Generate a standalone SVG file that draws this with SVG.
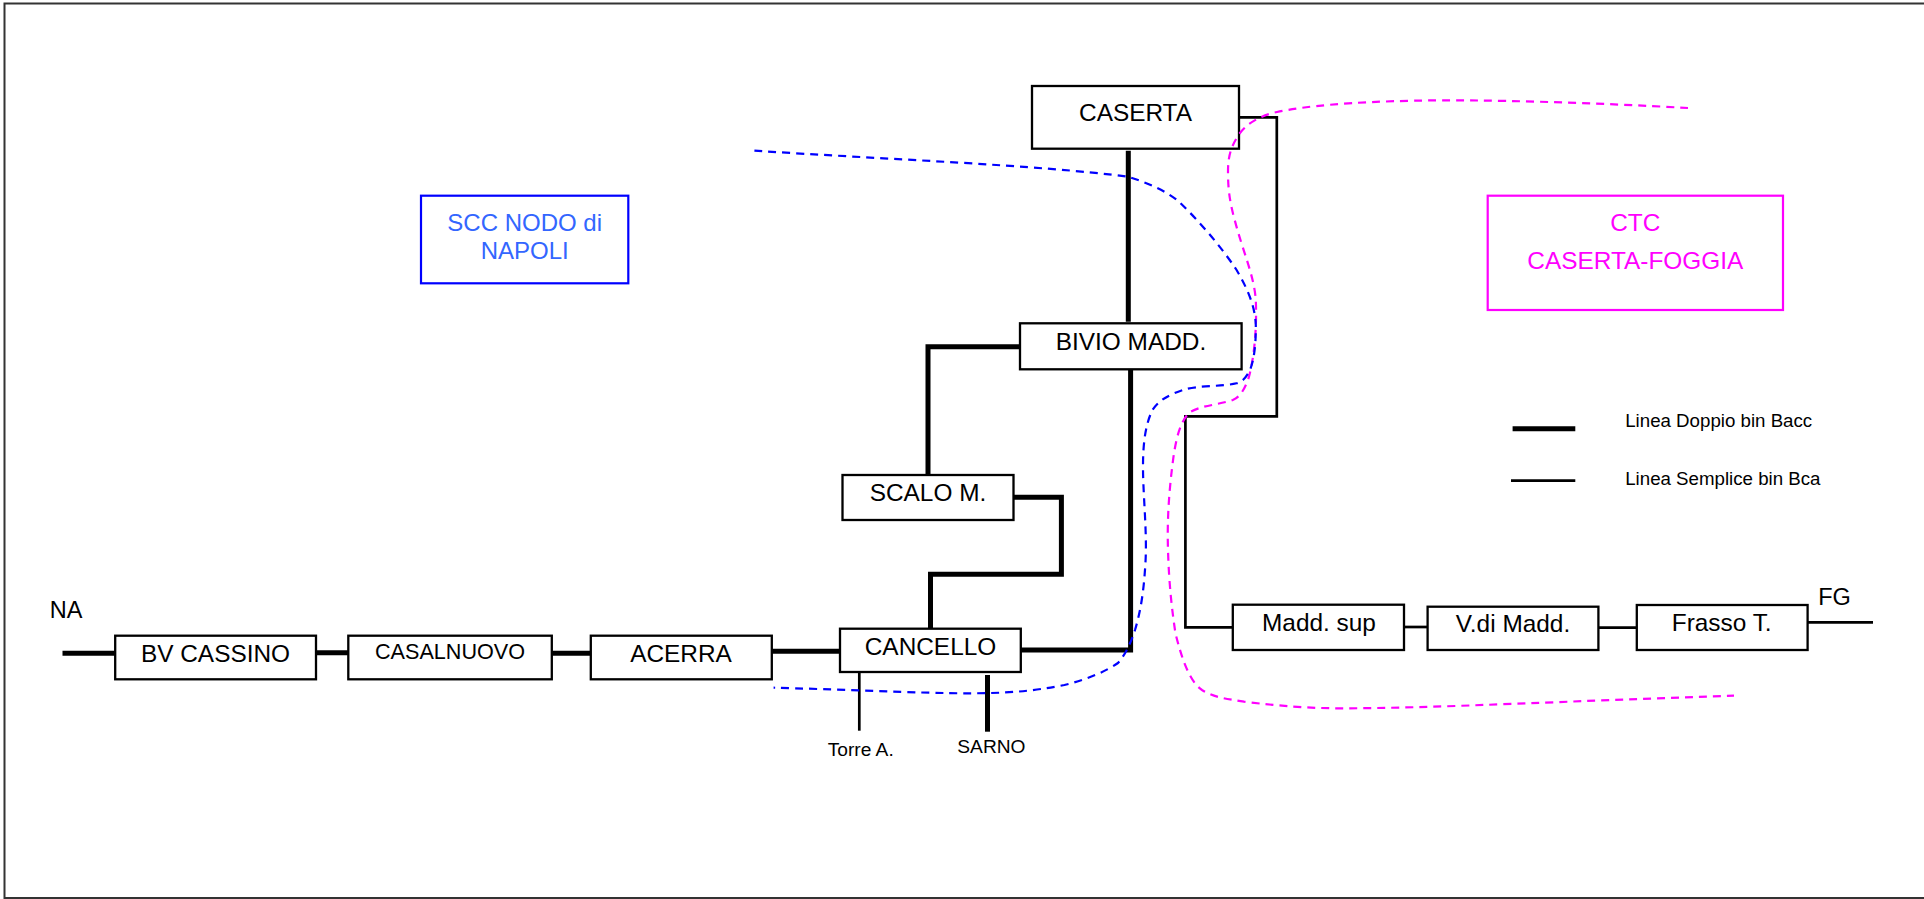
<svg xmlns="http://www.w3.org/2000/svg" width="1924" height="899" viewBox="0 0 1924 899">
<style>
text{font-family:"Liberation Sans",Arial,sans-serif;fill:#000;text-anchor:middle}
.n rect{fill:#fff;stroke:#000;stroke-width:2.3}
.n text{font-size:24.4px}
.thick,.thin,.dash{fill:none}
.thick{stroke:#000;stroke-width:5}
.thin{stroke:#000;stroke-width:2.7}
.dash{stroke-width:2.2;stroke-dasharray:8 6}
.leg{font-size:18.7px;text-anchor:start}
.sm{font-size:19.2px}
</style>
<rect width="1924" height="899" fill="#fff"/>
<path d="M1924 3.5H4.5V898H1924" fill="none" stroke="#333" stroke-width="2"/>
<g id="connectors">
<path class="thick" d="M62.5 653.3H115"/>
<path class="thick" d="M316 652.7H348.3"/>
<path class="thick" d="M551.8 653.3H590.8"/>
<path class="thick" d="M771.8 651.3H840"/>
<path class="thick" d="M1128.3 150.7V321.7"/>
<path class="thick" d="M1020 346.7H928V475"/>
<path class="thick" d="M1013.5 497.3H1061.4V574.3H930.5V628.7"/>
<path class="thick" d="M1130.6 369.3V650H1020.8"/>
<path class="thin" d="M859.3 672V730.7"/>
<path class="thick" d="M987.5 675V731.7"/>
<path class="thin" d="M1239.3 117.3H1276.8V416.3H1185.4V627.3H1232.8"/>
<path class="thin" d="M1404 627H1427.6"/>
<path class="thin" d="M1598.4 627.7H1636.8"/>
<path class="thin" d="M1805 622.3H1873"/>
</g>
<g id="caserta" class="n"><rect x="1032" y="86" width="207" height="62.7"/><text x="1135.5" y="121">CASERTA</text></g>
<g id="bivio" class="n"><rect x="1020" y="323.3" width="221.6" height="46"/><text x="1131" y="350">BIVIO MADD.</text></g>
<g id="scalo" class="n"><rect x="842.5" y="475" width="171" height="45"/><text x="928" y="500.7">SCALO M.</text></g>
<g id="cancello" class="n"><rect x="840" y="628.7" width="180.8" height="43.3"/><text x="930.5" y="655">CANCELLO</text></g>
<g id="bvcassino" class="n"><rect x="115.2" y="635.7" width="200.8" height="43.6"/><text x="215.5" y="661.7">BV CASSINO</text></g>
<g id="casalnuovo" class="n"><rect x="348.3" y="635.7" width="203.5" height="43.6"/><text x="450" y="659" style="font-size:21.6px">CASALNUOVO</text></g>
<g id="acerra" class="n"><rect x="590.8" y="635.7" width="181" height="43.6"/><text x="681" y="661.7">ACERRA</text></g>
<g id="maddsup" class="n"><rect x="1232.8" y="604.7" width="171.2" height="45.3"/><text x="1319" y="630.7">Madd. sup</text></g>
<g id="vdimadd" class="n"><rect x="1427.6" y="606.7" width="170.8" height="43.3"/><text x="1513" y="632.3">V.di Madd.</text></g>
<g id="frasso" class="n"><rect x="1636.8" y="605" width="170.8" height="45"/><text x="1721.7" y="630.7">Frasso T.</text></g>
<g id="scc"><rect x="421" y="195.7" width="207.3" height="87.6" fill="#fff" stroke="#00f" stroke-width="2.2"/><text x="524.7" y="231" font-size="24" style="fill:#36f">SCC NODO di</text><text x="524.7" y="259" font-size="24" style="fill:#36f">NAPOLI</text></g>
<g id="ctc"><rect x="1487.7" y="195.7" width="295.3" height="114.3" fill="#fff" stroke="#f0f" stroke-width="2.2"/><text x="1635.3" y="231" font-size="24.4" style="fill:#f0f">CTC</text><text x="1635.3" y="269" font-size="24.4" style="fill:#f0f">CASERTA-FOGGIA</text></g>
<g id="boundaries">
<path class="dash" stroke="#f0f" d="M1688 108C1600 103 1480 99 1414 100.7C1350 102 1305 106 1277 112C1258 116 1246 125 1240 133C1230 147 1228 158 1228 172C1228 190 1230 203 1234.7 220C1243 252 1254 275 1255.8 300C1257 330 1254 360 1248 380C1244 390 1240 397 1232.8 400C1218 405 1203 405 1190.7 411.7C1180 420 1176 440 1173.5 456.7C1169 490 1167 520 1168 550C1169 585 1172 610 1175.4 633C1182 660 1190 682 1202 690C1215 698 1228 699 1244 701.7C1280 706 1310 708.3 1340 708.3C1410 708.3 1480 705 1542.7 702.7C1610 700 1670 698 1734 695.7"/>
<path class="dash" stroke="#00f" d="M754.4 150.7C880 159 1040 165 1128 176.7C1145 182 1165 190 1179 201.7C1198 220 1220 245 1236.6 270C1247 288 1255 305 1255.8 325C1256 345 1254 360 1250 370C1246 378 1242 382 1236.6 383.3C1220 387 1198 385 1183 390C1165 396 1158 402 1152.5 410C1145 425 1143 445 1143 466.7C1143 495 1147 530 1145.6 560C1144 590 1141 610 1135 630C1130 645 1125 655 1118 663C1105 672 1085 680 1064.4 685C1030 692 1000 693.3 968.8 693.3C920 693.3 830 689 773.6 687.7"/>
</g>
<g id="labels">
<text x="66" y="617.7" font-size="23.5">NA</text>
<text x="1834.5" y="605" font-size="23.5">FG</text>
<text class="sm" x="860.7" y="755.5">Torre A.</text>
<text class="sm" x="991.4" y="753.3">SARNO</text>
</g>
<g id="legend">
<path class="thick" d="M1512.6 428.7H1575.3"/>
<path class="thin" d="M1511 480.7H1575.3"/>
<text class="leg" x="1625.2" y="426.7">Linea Doppio bin Bacc</text>
<text class="leg" x="1625.2" y="484.5">Linea Semplice bin Bca</text>
</g>
</svg>
